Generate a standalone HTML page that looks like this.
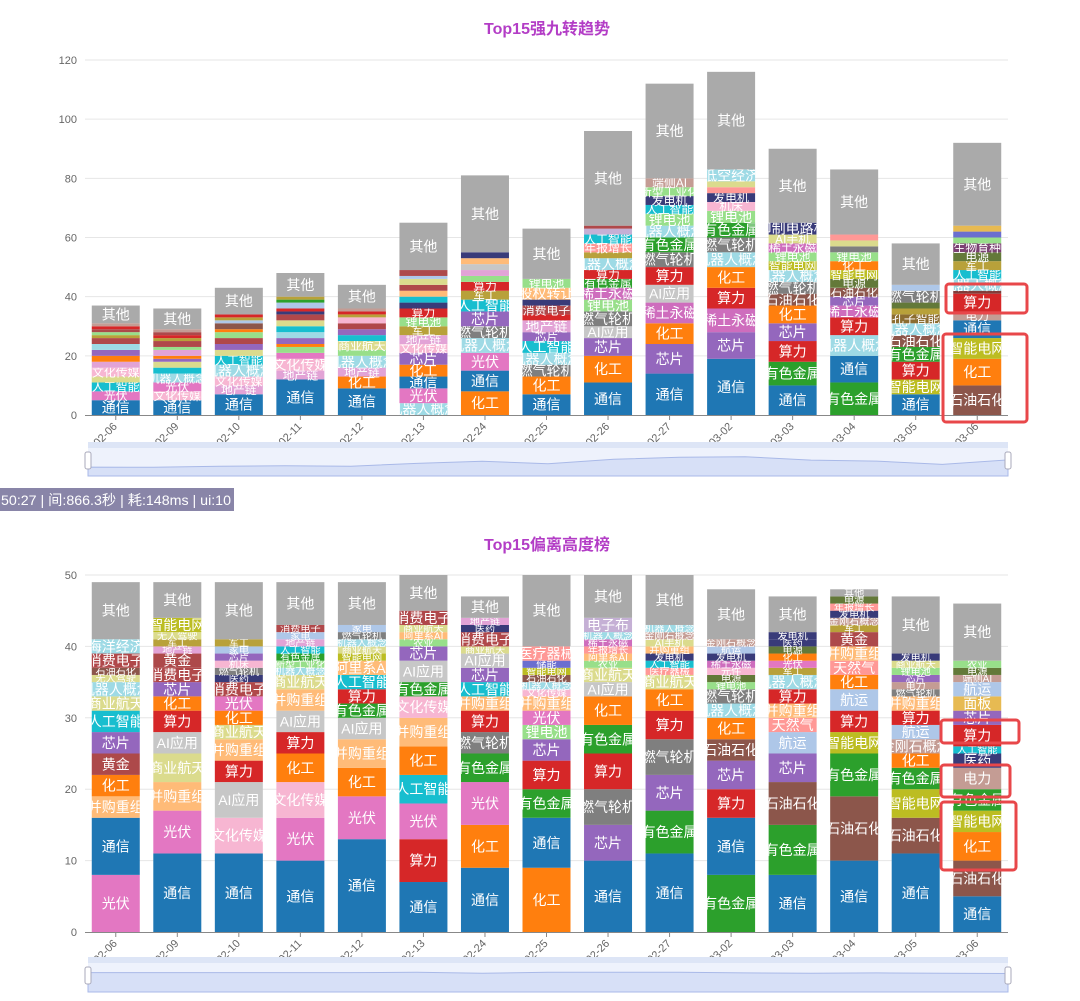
<!DOCTYPE html>
<html><head><meta charset="utf-8">
<style>
html,body{margin:0;padding:0;background:#fff;}
svg{display:block;font-family:"Liberation Sans","Noto Sans CJK SC",sans-serif;}
</style></head>
<body>
<svg id="root" width="1080" height="1001" viewBox="0 0 1080 1001" xmlns="http://www.w3.org/2000/svg">
<text x="547" y="34" text-anchor="middle" font-size="16" font-weight="bold" fill="#b33dc6" font-family="Liberation Sans, Noto Sans CJK SC, sans-serif">Top15强九转趋势</text>
<text x="547" y="550" text-anchor="middle" font-size="16" font-weight="bold" fill="#b33dc6" font-family="Liberation Sans, Noto Sans CJK SC, sans-serif">Top15偏离高度榜</text>
<g>
<rect x="0" y="488" width="234" height="23" fill="#8985a8"/>
<text x="1" y="505" font-size="14" fill="#fff" textLength="230" lengthAdjust="spacingAndGlyphs" font-family="Liberation Sans, Noto Sans CJK SC, sans-serif">50:27 | 间:866.3秒 | 耗:148ms | ui:10</text>
</g>
<g id="top-chart"></g>
<g id="bottom-chart"></g>
<g fill="none" stroke="#e8474a" stroke-width="3">
<rect x="946" y="284" width="81" height="29" rx="3"/>
<rect x="943" y="334" width="84" height="88" rx="3"/>
<rect x="941" y="720" width="78" height="23" rx="3"/>
<rect x="941" y="765" width="69" height="32" rx="3"/>
<rect x="941" y="802" width="75" height="68" rx="3"/>
</g>
</svg>
<script>
const categories = ["02-06","02-09","02-10","02-11","02-12","02-13","02-24","02-25","02-26","02-27","03-02","03-03","03-04","03-05","03-06"];

const topNames = [
["通信","光伏","人工智能","商业航天","文化传媒","地产链","化工","芯片","机器人概念","消费电子","军工","锂电池","黄金","算力","电力","其他"],
["通信","文化传媒","光伏","机器人概念","人工智能","商业航天","芯片","化工","地产链","锂电池","消费电子","军工","算力","黄金","电力","其他"],
["通信","地产链","文化传媒","机器人概念","人工智能","商业航天","芯片","消费电子","锂电池","化工","石油石化","环保","军工","算力","其他"],
["通信","地产链","文化传媒","光伏","锂电池","化工","芯片","机器人概念","人工智能","商业航天","消费电子","发电机","算力","环保","有色金属","军工","其他"],
["通信","化工","地产链","机器人概念","锂电池","商业航天","人工智能","芯片","消费电子","文化传媒","军工","算力","电力","其他"],
["机器人概念","光伏","通信","化工","芯片","文化传媒","地产链","军工","锂电池","算力","发电机","人工智能","股权转让","消费电子","商业航天","环保","黄金","其他"],
["化工","通信","光伏","机器人概念","燃气轮机","芯片","人工智能","军工","算力","新型工业化","地产链","AI应用","股权转让","发电机","其他"],
["通信","化工","燃气轮机","机器人概念","人工智能","芯片","地产链","算力","消费电子","发电机","股权转让","锂电池","其他"],
["通信","化工","芯片","AI应用","燃气轮机","锂电池","稀土永磁","有色金属","算力","机器人概念","军工","年报增长","人工智能","SOFC电池","消费电子","其他"],
["通信","芯片","化工","稀土永磁","AI应用","算力","燃气轮机","有色金属","机器人概念","锂电池","人工智能","发电机","新型工业化","端侧AI","其他"],
["通信","芯片","稀土永磁","算力","化工","机器人概念","燃气轮机","有色金属","锂电池","机床","发电机","年报增长","AI手机","低空经济","其他"],
["通信","有色金属","算力","芯片","化工","石油石化","燃气轮机","机器人概念","智能电网","锂电池","稀土永磁","AI手机","印制电路板","其他"],
["有色金属","通信","机器人概念","算力","稀土永磁","芯片","石油石化","电源","智能电网","化工","锂电池","燃气轮机","AI手机","年报增长","其他"],
["通信","智能电网","算力","有色金属","石油石化","机器人概念","孔子智能","军工","电源","燃气轮机","环保","其他"],
["石油石化","化工","智能电网","通信","电力","算力","生物医药","机器人概念","人工智能","军工","电源","生物育种","锂电池","储能","核电","其他"]
];
const topVals = [
[5,3,3,2,3,2,2,2,2,2,1,1,1,1,1,6],
[5,3,3,3,2,2,1,1,2,1,2,1,1,1,1,7],
[7,3,3,4,3,2,2,2,2,1,2,1,1,1,9],
[12,3,4,2,2,1,2,2,2,2,2,1,1,2,1,1,8],
[9,4,3,4,2,3,2,2,2,2,1,1,1,8],
[4,5,4,4,4,3,3,3,3,3,2,2,2,2,2,1,2,16],
[8,7,6,5,4,5,4,3,3,2,2,2,2,2,26],
[7,6,4,4,4,3,4,2,3,2,4,3,17],
[11,9,6,4,5,4,4,3,3,4,2,3,3,2,1,32],
[14,10,7,7,6,6,5,5,4,4,3,3,3,3,32],
[19,9,8,7,7,5,5,5,4,3,3,2,2,4,33],
[10,8,7,6,6,4,4,4,3,3,3,3,4,25],
[11,9,7,6,4,3,3,3,3,3,3,2,2,2,22],
[7,5,6,5,4,4,3,2,2,4,2,14],
[10,9,7,6,3,6,1,4,3,3,3,3,2,2,2,28]
];
const topTicks = [0,20,40,60,80,100,120];

const botNames = [
["光伏","通信","并购重组","化工","黄金","芯片","人工智能","商业航天","机器人概念","无人驾驶","石油石化","消费电子","海洋经济","其他"],
["通信","光伏","并购重组","商业航天","AI应用","算力","化工","芯片","消费电子","黄金","地产链","军工","无人驾驶","智能电网","其他"],
["通信","文化传媒","AI应用","算力","并购重组","商业航天","化工","光伏","消费电子","医药","燃气轮机","机床","芯片","家电","军工","其他"],
["通信","光伏","文化传媒","化工","算力","AI应用","并购重组","商业航天","机器人概念","新型工业化","有色金属","人工智能","地产链","家电","消费电子","其他"],
["通信","光伏","化工","并购重组","AI应用","有色金属","算力","人工智能","阿里系AI","智能电网","商业航天","机器人概念","燃气轮机","家电","其他"],
["通信","算力","光伏","人工智能","化工","并购重组","文化传媒","有色金属","AI应用","芯片","农业","阿里系AI","商业航天","消费电子","其他"],
["通信","化工","光伏","有色金属","燃气轮机","算力","并购重组","人工智能","芯片","AI应用","商业航天","消费电子","医药","地产链","其他"],
["化工","通信","有色金属","算力","芯片","锂电池","光伏","并购重组","文化传媒","机器人概念","石油石化","智能电网","储能","医疗器械","其他"],
["通信","芯片","燃气轮机","算力","有色金属","化工","AI应用","商业航天","农业","阿里系AI","年报增长","稀土永磁","机器人概念","电子布","其他"],
["通信","有色金属","芯片","燃气轮机","算力","化工","商业航天","医疗器械","人工智能","发电机","并购重组","AI手机","金刚石概念","机器人概念","其他"],
["有色金属","通信","算力","芯片","石油石化","化工","机器人概念","燃气轮机","锂电池","电源","元件","稀土永磁","发电机","航运","金刚石概念","其他"],
["通信","有色金属","石油石化","芯片","航运","天然气","并购重组","算力","机器人概念","军工","光伏","化工","电源","医药","发电机","其他"],
["通信","石油石化","有色金属","智能电网","算力","航运","化工","天然气","并购重组","黄金","军工","金刚石概念","发电机","年报增长","电源","其他"],
["通信","石油石化","智能电网","有色金属","化工","金刚石概念","航运","算力","并购重组","燃气轮机","电力","芯片","锂电池","商业航天","发电机","其他"],
["通信","石油石化","化工","智能电网","有色金属","电力","医药","人工智能","算力","芯片","面板","航运","端侧AI","电源","农业","其他"]
];
const botVals = [
[8,8,3,3,3,3,3,2,2,1,1,2,2,8],
[11,6,4,4,3,3,2,2,2,2,1,1,1,2,5],
[11,5,5,3,3,2,2,2,2,1,1,1,1,1,1,8],
[10,6,5,4,3,3,3,2,1,1,1,1,1,1,1,6],
[13,6,4,4,3,2,2,2,2,1,1,1,1,1,6],
[7,6,5,4,4,4,3,2,3,2,1,1,1,2,5],
[9,6,6,4,3,3,2,2,2,2,1,2,1,1,3],
[9,7,4,4,3,2,2,2,1,1,1,1,1,2,10],
[10,5,5,5,4,4,2,2,1,1,1,1,1,2,6],
[11,6,5,5,4,3,2,1,1,1,1,1,1,1,7],
[8,8,4,4,3,3,2,2,1,1,1,1,1,1,1,7],
[8,7,6,4,3,2,2,2,2,1,1,1,1,1,1,5],
[10,9,6,3,3,3,2,2,2,2,1,1,1,1,1,1],
[11,5,4,3,2,2,2,2,2,1,1,1,1,1,1,8],
[5,5,4,3,3,3,2,1,3,2,2,2,1,1,1,8]
];
const botTicks = [0,10,20,30,40,50];

const colorMap = {
"通信":"#1f77b4","化工":"#ff7f0e","光伏":"#e377c2","其他":"#aaaaaa","芯片":"#9467bd","算力":"#d62728",
"有色金属":"#2ca02c","石油石化":"#8c564b","智能电网":"#bcbd22","人工智能":"#17becf","机器人概念":"#9edae5",
"燃气轮机":"#7f7f7f","AI应用":"#c7c7c7","稀土永磁":"#ce6dbd","锂电池":"#98df8a","地产链":"#e2a3d6",
"文化传媒":"#f7b6d2","商业航天":"#dbdb8d","电力":"#c49c94","军工":"#b8a13a","发电机":"#393b79",
"黄金":"#ad494a","并购重组":"#ffbb78","航运":"#aec7e8","天然气":"#ff9896","医药":"#393b79","面板":"#e7ba52",
"消费电子":"#b0484a","海洋经济":"#9edae5","无人驾驶":"#dbdb8d"
};
const fallback = ["#aec7e8","#ffbb78","#98df8a","#ff9896","#c5b0d5","#c49c94","#f7b6d2","#dbdb8d","#9edae5","#393b79","#637939","#8c6d31","#843c39","#7b4173","#6b6ecf","#e7ba52"];
let fbIdx = 0;
const fbMap = {};
function colorOf(n){
  if(colorMap[n]) return colorMap[n];
  if(!fbMap[n]){ fbMap[n] = fallback[fbIdx % fallback.length]; fbIdx++; }
  return fbMap[n];
}
const NS = "http://www.w3.org/2000/svg";
function mk(tag, attrs, parent){
  const e = document.createElementNS(NS, tag);
  for(const k in attrs) e.setAttribute(k, attrs[k]);
  if(parent) parent.appendChild(e);
  return e;
}

function drawChart(gid, names, vals, ticks, cfg){
  const g = document.getElementById(gid);
  const maxV = ticks[ticks.length-1];
  const yScale = v => cfg.y0 - (v / maxV) * (cfg.y0 - cfg.yTop);
  const band = (cfg.xR - cfg.xL) / categories.length;
  const xCenter = i => cfg.xL + band * (i + 0.5);
  const barW = 48;
  ticks.forEach(t => {
    const y = yScale(t);
    if(t !== 0){
      const gl = mk("line", {x1:cfg.xL, x2:cfg.xR, y1:y, y2:y, stroke:"#e6e6e6", "stroke-width":1}, g);
      
      
    }
    const tl = mk("text", {x:cfg.xL-8, y:y+4, "text-anchor":"end", "font-size":11, fill:"#666"}, g);
    tl.textContent = t;
    
    
  });
  const totals = [];
  categories.forEach((c, i) => {
    const bg = mk("g", {}, g);
    
    
    const cid = gid + "-clip-" + i;
    const cp = mk("clipPath", {id:cid}, bg);
    let total = 0;
    vals[i].forEach(v => total += v);
    totals.push(total);
    mk("rect", {x:xCenter(i)-barW/2, y:yScale(total), width:barW, height:cfg.y0-yScale(total)}, cp);
    let acc = 0;
    names[i].forEach((n, j) => {
      const v = vals[i][j];
      const yb = yScale(acc), yt = yScale(acc + v);
      acc += v;
      const r = mk("rect", {x:xCenter(i)-barW/2, y:yt, width:barW, height:Math.max(0, yb-yt), fill:colorOf(n)}, bg);
      
      
      const h = yb - yt;
      if(h >= 6){
        const fs = Math.min(14, h + 3);
        const t = mk("text", {x:xCenter(i), y:(yb+yt)/2 + fs*0.36, "text-anchor":"middle", "font-size":fs, fill:"#fff", "clip-path":"url(#"+cid+")"}, bg);
        t.textContent = n;
        
        
      }
    });
    const tk = mk("line", {x1:xCenter(i), x2:xCenter(i), y1:cfg.y0, y2:cfg.y0+5, stroke:"#888"}, g);
    
    
    const xl = mk("text", {x:xCenter(i)+2, y:cfg.y0+12, "text-anchor":"end", "font-size":11, fill:"#666",
      transform:"rotate(-45 "+(xCenter(i)+2)+" "+(cfg.y0+12)+")"}, g);
    xl.textContent = c;
    
    
  });
  const ax = mk("line", {x1:cfg.xL, x2:cfg.xR, y1:cfg.y0+0.5, y2:cfg.y0+0.5, stroke:"#888"}, g);
  
  
  const sg = mk("g", {}, g);
  
  
  const sx = cfg.xL + 3, sw = cfg.xR - cfg.xL - 3, sy = cfg.sy, sh = cfg.sh;
  mk("rect", {x:sx, y:sy, width:sw, height:sh, fill:"#eef2fc"}, sg);
  mk("rect", {x:sx, y:sy, width:sw, height:6, fill:"#dde5f6"}, sg);
  const tMax = Math.max.apply(null, totals);
  let pts = [];
  totals.forEach((t, i) => {
    const px = sx + sw * i / (totals.length - 1);
    const py = sy + sh - 4 - (t / tMax) * (sh * 0.45);
    pts.push(px.toFixed(1) + "," + py.toFixed(1));
  });
  mk("polygon", {points: sx+","+(sy+sh)+" "+pts.join(" ")+" "+(sx+sw)+","+(sy+sh), fill:"#d7e0f7", stroke:"#a9b9e8", "stroke-width":1}, sg);
  const h1 = mk("rect", {x:sx-3, y:sy+10, width:6, height:17, rx:2, fill:"#fff", stroke:"#aab"}, sg);
  
  
  const h2 = mk("rect", {x:sx+sw-3, y:sy+10, width:6, height:17, rx:2, fill:"#fff", stroke:"#aab"}, sg);
  
  
}

drawChart("top-chart", topNames, topVals, topTicks, {xL:85, xR:1008, y0:415, yTop:60, sy:442, sh:34});
drawChart("bottom-chart", botNames, botVals, botTicks, {xL:85, xR:1008, y0:932, yTop:575, sy:957, sh:35});
</script>
</body></html>
